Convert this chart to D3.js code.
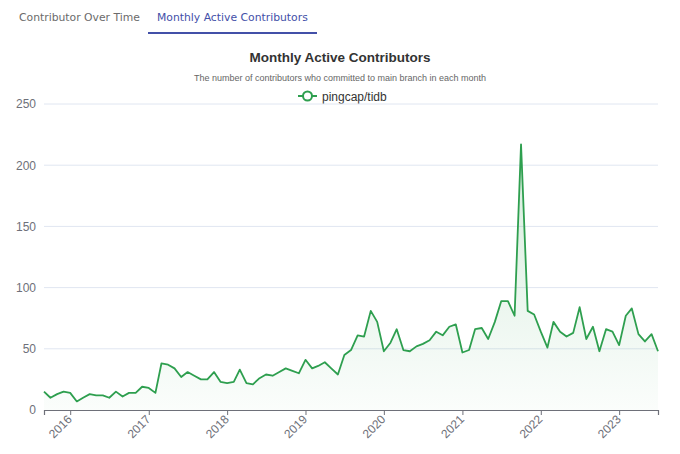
<!DOCTYPE html>
<html>
<head>
<meta charset="utf-8">
<script src="https://cdn.jsdelivr.net/npm/d3@7"></script>
<style>
  html, body { margin: 0; padding: 0; background: #fff; }
  svg { display: block; }
</style>
</head>
<body>
<svg width="680" height="454"></svg>
<script>
var svg = d3.select('svg');

var width = +svg.attr('width');
var height = +svg.attr('height');

// onglets
const tabs = ["Contributor Over Time", "Monthly Active Contributors"];
const activeTab = 1;

const title = "Monthly Active Contributors";
const subtitle = "The number of contributors who committed to main branch in each month";
const seriesName = "pingcap/tidb";

// premier mois de la série, puis une valeur par mois
const firstMonth = "2015-09";
const activeContributors = [
	15, 10, 13, 15,                                  // 2015 (sep-dec)
	14, 7, 10, 13, 12, 12, 10, 15, 11, 14, 14, 19,   // 2016
	18, 14, 38, 37, 34, 27, 31, 28, 25, 25, 31, 23,  // 2017
	22, 23, 33, 22, 21, 26, 29, 28, 31, 34, 32, 30,  // 2018
	41, 34, 36, 39, 34, 29, 45, 49, 61, 60, 81, 72,  // 2019
	48, 55, 66, 49, 48, 52, 54, 57, 64, 61, 68, 70,  // 2020
	47, 49, 66, 67, 58, 72, 89, 89, 77, 217, 81, 78, // 2021
	64, 51, 72, 64, 60, 63, 84, 58, 68, 48, 66, 64,  // 2022
	53, 77, 83, 62, 56, 62, 48                       // 2023 (jan-jul)
];

const yearTicks = ["2016", "2017", "2018", "2019", "2020", "2021", "2022", "2023"];
const yTicks = [0, 50, 100, 150, 200, 250];

const lineColor = "#2e9f4f";
const tabColor = "#4350a8";

const parseMonth = d3.timeParse("%Y-%m");
const start = parseMonth(firstMonth);
const data = activeContributors.map((v, i) => ({
	date: d3.timeMonth.offset(start, i),
	value: v
}));

// onglets en haut
const tabFont = "'DejaVu Sans', Verdana, sans-serif";
const tabX = [19, 157];
tabs.forEach((t, i) => {
	svg.append("text")
		.attr("x", tabX[i])
		.attr("y", 21)
		.style("font-family", tabFont)
		.style("font-size", "10.8px")
		.style("fill", i == activeTab ? tabColor : "#6b6b6b")
		.text(t);
});
svg.append("rect")
	.attr("x", 148)
	.attr("y", 32)
	.attr("width", 169)
	.attr("height", 2)
	.style("fill", tabColor);

// titres
const font = "'Liberation Sans', Arial, sans-serif";
svg.append("text")
	.attr("x", width / 2)
	.attr("y", 61.5)
	.attr("text-anchor", "middle")
	.style("font-family", font)
	.style("font-size", "13.5px")
	.style("font-weight", "bold")
	.style("fill", "#333")
	.text(title);

svg.append("text")
	.attr("x", width / 2)
	.attr("y", 81)
	.attr("text-anchor", "middle")
	.style("font-family", font)
	.style("font-size", "9px")
	.style("fill", "#666")
	.text(subtitle);

// légende
const legend = svg.append("g").attr("transform", "translate(298, 96)");
legend.append("line")
	.attr("x1", 0).attr("x2", 19)
	.attr("y1", 0).attr("y2", 0)
	.style("stroke", lineColor)
	.style("stroke-width", 2);
legend.append("circle")
	.attr("cx", 9.5).attr("cy", 0).attr("r", 4.5)
	.style("fill", "#fff")
	.style("stroke", lineColor)
	.style("stroke-width", 2);
legend.append("text")
	.attr("x", 24)
	.attr("y", 4.5)
	.style("font-family", font)
	.style("font-size", "12px")
	.style("fill", "#333")
	.text(seriesName);

// échelles
const margin = {top: 104, right: 22, bottom: 44, left: 44};
const innerWidth = width - margin.left - margin.right;
const innerHeight = height - margin.top - margin.bottom;

const xScale = d3.scaleTime()
	.domain(d3.extent(data, d => d.date))
	.range([0, innerWidth]);
const yScale = d3.scaleLinear()
	.domain([0, 250])
	.range([innerHeight, 0]);

const g = svg.append('g')
	.attr('transform', `translate(${margin.left}, ${margin.top})`);

// grille
g.append('g')
	.selectAll('line')
	.data(yTicks.filter(d => d > 0))
	.enter().append('line')
	.attr('x1', 0).attr('x2', innerWidth)
	.attr('y1', d => yScale(d)).attr('y2', d => yScale(d))
	.style('stroke', '#e0e6f1')
	.style('stroke-width', 1);

// axe y (labels seulement)
const yAxis = g.append('g').call(d3.axisLeft(yScale).tickValues(yTicks).tickSize(0).tickPadding(8));
yAxis.select('.domain').remove();
yAxis.selectAll('text')
	.style('font-family', font)
	.style('font-size', '12px')
	.style('fill', '#6e7079');

// dégradé de la zone
const defs = svg.append('defs');
const grad = defs.append('linearGradient')
	.attr('id', 'areaGrad')
	.attr('x1', 0).attr('y1', 0).attr('x2', 0).attr('y2', 1);
grad.append('stop').attr('offset', '0%').attr('stop-color', lineColor).attr('stop-opacity', 0.2);
grad.append('stop').attr('offset', '100%').attr('stop-color', lineColor).attr('stop-opacity', 0.02);

const area = d3.area()
	.x(d => xScale(d.date))
	.y0(innerHeight)
	.y1(d => yScale(d.value));
g.append('path')
	.datum(data)
	.attr('d', area)
	.style('fill', 'url(#areaGrad)');

const line = d3.line()
	.x(d => xScale(d.date))
	.y(d => yScale(d.value));
g.append('path')
	.datum(data)
	.attr('d', line)
	.style('fill', 'none')
	.style('stroke', lineColor)
	.style('stroke-width', 1.8)
	.style('stroke-linejoin', 'round');

// axe x
const parseYear = d3.timeParse("%Y");
const xAxis = g.append('g')
	.attr('transform', `translate(0,${innerHeight})`)
	.call(d3.axisBottom(xScale)
		.tickValues(yearTicks.map(parseYear))
		.tickFormat(d3.timeFormat("%Y"))
		.tickSizeOuter(0)
		.tickSize(5));
xAxis.select('.domain')
	.style('stroke', '#6e7079')
	.style('stroke-width', 1.2);
xAxis.selectAll('.tick line').style('stroke', '#6e7079');
xAxis.selectAll('text')
	.attr('y', 0)
	.attr('dy', 0)
	.attr('transform', 'translate(2, 10) rotate(-45)')
	.attr('text-anchor', 'end')
	.style('font-family', font)
	.style('font-size', '12px')
	.style('fill', '#6e7079');
</script>
</body>
</html>
